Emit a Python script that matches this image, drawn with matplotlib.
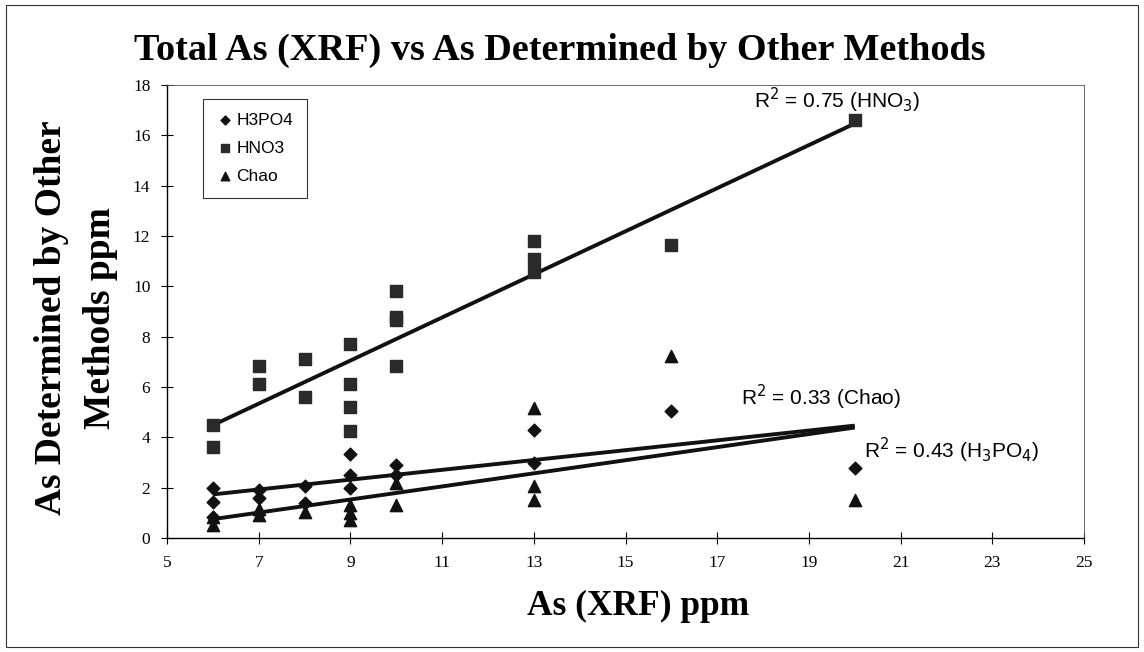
import numpy as np
import matplotlib
matplotlib.use("Agg")
import matplotlib.pyplot as plt
from matplotlib.patches import Rectangle

# ---- data ----
h3po4_x = [6, 6, 6, 7, 7, 8, 8, 9, 9, 9, 10, 10, 13, 13, 16, 20]
h3po4_y = [2.0, 1.45, 0.85, 1.9, 1.6, 2.05, 1.4, 3.35, 2.5, 2.0, 2.9, 2.5, 4.3, 3.0, 5.05, 2.78]

hno3_x = [6, 6, 7, 7, 8, 8, 9, 9, 9, 9, 10, 10, 10, 10, 13, 13, 13, 16, 20]
hno3_y = [4.5, 3.6, 6.85, 6.1, 7.1, 5.6, 7.7, 6.1, 5.2, 4.25, 9.8, 8.8, 8.65, 6.85, 11.8, 11.1, 10.55, 11.65, 16.6]

chao_x = [6, 6, 7, 7, 8, 9, 9, 9, 10, 10, 13, 13, 13, 16, 20]
chao_y = [0.85, 0.5, 1.15, 0.9, 1.05, 1.3, 1.0, 0.7, 2.2, 1.3, 5.15, 2.05, 1.5, 7.25, 1.5]

x_ticks = [5, 7, 9, 11, 13, 15, 17, 19, 21, 23, 25]
y_ticks = [0, 2, 4, 6, 8, 10, 12, 14, 16, 18]

title = "Total As (XRF) vs As Determined by Other Methods"
xlabel = "As (XRF) ppm"
ylabel1 = "As Determined by Other"
ylabel2 = "Methods ppm"
r2_hno3 = r"R$^2$ = 0.75 (HNO$_3$)"
r2_chao = r"R$^2$ = 0.33 (Chao)"
r2_h3po4 = r"R$^2$ = 0.43 (H$_3$PO$_4$)"

SERIF = ["Liberation Serif", "DejaVu Serif"]
SANS = ["Liberation Sans", "DejaVu Sans"]

fig = plt.figure(figsize=(11.44, 6.52), dpi=100)
ax = fig.add_axes([167/1144, 1-538/652, (1084-167)/1144, (538-85)/652])

ax.scatter(h3po4_x, h3po4_y, marker="D", s=42, color="#111111", label="H3PO4", zorder=3)
ax.scatter(hno3_x, hno3_y, marker="s", s=72, color="#2a2a2a", label="HNO3", zorder=3)
ax.scatter(chao_x, chao_y, marker="^", s=78, color="#111111", label="Chao", zorder=3)

xs = np.array([6, 20])
for xd, yd in [(hno3_x, hno3_y), (h3po4_x, h3po4_y), (chao_x, chao_y)]:
    k, b = np.polyfit(xd, yd, 1)
    ax.plot(xs, k*xs + b, color="#111111", lw=2.8, zorder=2, solid_capstyle="butt")

ax.set_xlim(5, 25)
ax.set_ylim(0, 18)
ax.set_xticks(x_ticks)
ax.set_yticks(y_ticks)
ax.tick_params(direction="inout", length=8, width=0.8, labelsize=12.5, pad=8)
for lab in ax.get_xticklabels() + ax.get_yticklabels():
    lab.set_fontfamily(SERIF)
for s in ["left", "bottom"]:
    ax.spines[s].set_linewidth(1.0)
for s in ["top", "right"]:
    ax.spines[s].set_linewidth(0.6)
    ax.spines[s].set_color("#555555")

leg = ax.legend(loc="upper left", bbox_to_anchor=(0.039, 0.97), frameon=True, fancybox=False,
                edgecolor="black", prop={"family": SANS, "size": 12.5}, handletextpad=0.15,
                handlelength=1.0, borderpad=0.8, labelspacing=0.75, markerscale=0.7,
                borderaxespad=0)
leg.get_frame().set_linewidth(0.8)

ax.text(17.8, 17.4, r2_hno3, family=SANS, fontsize=15, va="center", ha="left")
ax.text(17.52, 5.6, r2_chao, family=SANS, fontsize=15, va="center", ha="left")
ax.text(20.2, 3.5, r2_h3po4, family=SANS, fontsize=15, va="center", ha="left")

fig.text(560/1144, 1-60/652, title, family=SERIF, fontsize=27.5, fontweight="bold", ha="center", va="baseline")
fig.text(638/1144, 1-606/652, xlabel, family=SERIF, fontsize=25.5, fontweight="bold", ha="center", va="center")
fig.text(52/1144, 1-318/652, ylabel1, family=SERIF, fontsize=27, fontweight="bold", ha="center", va="center", rotation=90)
fig.text(100/1144, 1-318/652, ylabel2, family=SERIF, fontsize=27, fontweight="bold", ha="center", va="center", rotation=90)

fig.patches.append(Rectangle((6/1144, 5/652), 1-12/1144, 1-10/652, transform=fig.transFigure,
                             fill=False, edgecolor="#333333", lw=0.8))

fig.savefig("out.png", dpi=100)
